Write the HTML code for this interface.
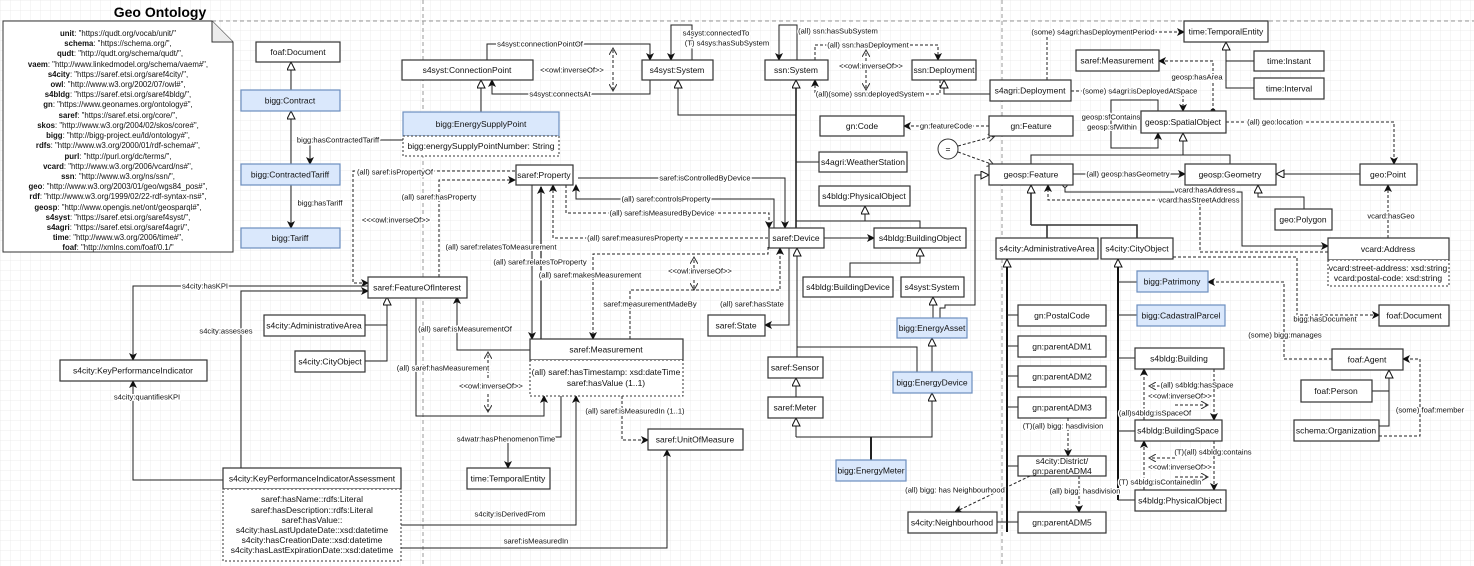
<!DOCTYPE html>
<html><head><meta charset="utf-8">
<style>
html,body{margin:0;padding:0;background:#fff;}
svg{display:block;font-family:"Liberation Sans",Arial,sans-serif;}
.b{fill:#fff;stroke:#333;stroke-width:1.2}
.bb{fill:#dae8fc;stroke:#6c8ebf;stroke-width:1.2}
.da{fill:#fff;stroke:#333;stroke-width:1;stroke-dasharray:2 2}
.t{font-size:8.5px;fill:#111;text-anchor:middle;dominant-baseline:central}
.l{font-size:7.6px;fill:#111;text-anchor:middle;dominant-baseline:central;stroke:#fff;stroke-width:3px;paint-order:stroke;stroke-linejoin:round}
.e{fill:none;stroke:#222;stroke-width:1}
.d{fill:none;stroke:#222;stroke-width:1;stroke-dasharray:3 2}
.k{fill:none;stroke:#111;stroke-width:2}
.n{font-size:7.8px;fill:#111;text-anchor:middle}
</style></head><body>
<svg width="1474" height="566" viewBox="0 0 1474 566" xmlns="http://www.w3.org/2000/svg">
<defs>
<pattern id="grid" width="10" height="10" patternUnits="userSpaceOnUse"><path d="M10 0H0V10" fill="none" stroke="#e8e8e8" stroke-width="0.8"/></pattern>
<marker id="fa" markerWidth="8" markerHeight="8" refX="7" refY="4" orient="auto" markerUnits="userSpaceOnUse"><path d="M0,0 L8,4 L0,8 L2,4 z" fill="#111"/></marker>
<marker id="ht" markerWidth="10" markerHeight="10" refX="9" refY="4" orient="auto" markerUnits="userSpaceOnUse"><path d="M1,0 L9,4 L1,8 z" fill="#fff" stroke="#111" stroke-width="1"/></marker>
<marker id="oa" markerWidth="8" markerHeight="8" refX="7" refY="4" orient="auto" markerUnits="userSpaceOnUse"><path d="M0,0 L7,4 L0,8" fill="none" stroke="#333" stroke-width="1"/></marker>
<marker id="dot" markerWidth="6" markerHeight="6" refX="3" refY="3" markerUnits="userSpaceOnUse"><circle cx="3" cy="3" r="2.5" fill="#111"/></marker>
<marker id="oc" markerWidth="6" markerHeight="6" refX="3" refY="3" markerUnits="userSpaceOnUse"><circle cx="3" cy="3" r="2.2" fill="#fff" stroke="#111"/></marker>
</defs>
<rect width="1474" height="566" fill="url(#grid)"/>
<path d="M212 21H1474" stroke="#999" stroke-dasharray="4 3" fill="none"/>
<path d="M423 0V566M1002 0V566" stroke="#999" stroke-dasharray="4 3" fill="none"/>

<text x="160" y="12" font-size="14" font-weight="bold" text-anchor="middle" dominant-baseline="central">Geo Ontology</text>
<path d="M3 21H212L233 42V252H3Z" fill="#fff" stroke="#333"/>
<path d="M212 21V42H233" fill="#ececec" stroke="#333"/>
<g class="n">
<text x="118" y="36"><tspan font-weight="bold">unit</tspan>: "https://qudt.org/vocab/unit/"</text>
<text x="118" y="46"><tspan font-weight="bold">schema</tspan>: "https://schema.org/",</text>
<text x="120" y="56"><tspan font-weight="bold">qudt</tspan>: "http://qudt.org/schema/qudt/",</text>
<text x="118" y="67"><tspan font-weight="bold">vaem</tspan>: "http://www.linkedmodel.org/schema/vaem#",</text>
<text x="118" y="77"><tspan font-weight="bold">s4city</tspan>: "https://saref.etsi.org/saref4city/",</text>
<text x="118" y="87"><tspan font-weight="bold">owl</tspan>: "http://www.w3.org/2002/07/owl#",</text>
<text x="118" y="97"><tspan font-weight="bold">s4bldg</tspan>: "https://saref.etsi.org/saref4bldg/",</text>
<text x="118" y="107"><tspan font-weight="bold">gn</tspan>: "https://www.geonames.org/ontology#",</text>
<text x="118" y="118"><tspan font-weight="bold">saref</tspan>: "https://saref.etsi.org/core/",</text>
<text x="118" y="128"><tspan font-weight="bold">skos</tspan>: "http://www.w3.org/2004/02/skos/core#",</text>
<text x="118" y="138"><tspan font-weight="bold">bigg</tspan>: "http://bigg-project.eu/ld/ontology#",</text>
<text x="118" y="148"><tspan font-weight="bold">rdfs</tspan>: "http://www.w3.org/2000/01/rdf-schema#",</text>
<text x="118" y="159"><tspan font-weight="bold">purl</tspan>: "http://purl.org/dc/terms/",</text>
<text x="118" y="169"><tspan font-weight="bold">vcard</tspan>: "http://www.w3.org/2006/vcard/ns#",</text>
<text x="118" y="179"><tspan font-weight="bold">ssn</tspan>: "http://www.w3.org/ns/ssn/",</text>
<text x="118" y="189"><tspan font-weight="bold">geo</tspan>: "http://www.w3.org/2003/01/geo/wgs84_pos#",</text>
<text x="118" y="199"><tspan font-weight="bold">rdf</tspan>: "http://www.w3.org/1999/02/22-rdf-syntax-ns#",</text>
<text x="118" y="210"><tspan font-weight="bold">geosp</tspan>: "http://www.opengis.net/ont/geosparql#",</text>
<text x="118" y="220"><tspan font-weight="bold">s4syst</tspan>: "https://saref.etsi.org/saref4syst/",</text>
<text x="118" y="230"><tspan font-weight="bold">s4agri</tspan>: "https://saref.etsi.org/saref4agri/",</text>
<text x="118" y="240"><tspan font-weight="bold">time</tspan>: "http://www.w3.org/2006/time#",</text>
<text x="118" y="250"><tspan font-weight="bold">foaf</tspan>: "http://xmlns.com/foaf/0.1/"</text>
</g>

<g>
<path class="e" d="M291 90V62" marker-end="url(#ht)"/>
<path class="e" d="M291 164V111" marker-end="url(#ht)"/>
<path class="e" d="M291 185V228" marker-end="url(#fa)"/>
<path class="e" d="M403 140H310V164" marker-end="url(#fa)"/>
<path class="e" d="M481 112V80" marker-end="url(#ht)"/>
<path class="e" d="M487 60V44H650V60" marker-end="url(#fa)"/>
<path class="e" d="M650 80V94H492V80" marker-end="url(#fa)"/>
<path class="d" d="M613 68V48" marker-end="url(#oa)"/><path class="d" d="M613 72V91" marker-end="url(#oa)"/>
<path class="e" d="M692 60V25H671V60" marker-end="url(#fa)"/>
<path class="e" d="M797 60V25H779V60" marker-end="url(#fa)"/>
<path class="d" d="M815 60V45H938V60" marker-end="url(#fa)"/>
<path class="d" d="M940 80V94H815V80" marker-end="url(#fa)"/>
<path class="d" d="M866 66V50" marker-end="url(#oa)"/><path class="d" d="M866 70V90" marker-end="url(#oa)"/>
<path class="e" d="M990 94H944V80" marker-end="url(#ht)"/>
<path class="e" d="M796 115H678V80" marker-end="url(#ht)"/>
<path class="e" style="stroke-width:1.6" d="M796 228V80" marker-end="url(#ht)"/>
<path class="e" d="M796 162H819"/>
<path class="e" d="M796 221H920V228M865 221V206" marker-end="url(#ht)"/>
<path class="e" d="M824 238H874" marker-end="url(#fa)"/>
<path class="e" d="M850 277V263H920V248" marker-end="url(#ht)"/>
<path class="e" d="M578 178H785V228" marker-end="url(#fa)"/>
<path class="e" d="M774 228V199H576V185" marker-end="url(#fa)"/>
<path class="d" d="M566 185V213H769V228" marker-end="url(#fa)"/>
<path class="d" d="M768 238H553V185" marker-end="url(#fa)"/>
<path class="d" d="M515 171H353V283H368" marker-end="url(#fa)"/>
<path class="d" d="M439 277V180H515" marker-end="url(#fa)"/>
<path class="e" d="M532 185V339" marker-end="url(#fa)"/>
<path class="e" style="stroke:#777;stroke-width:2" d="M541 339V187" marker-end="url(#fa)"/>
<path class="d" d="M768 247V254H593V339" marker-end="url(#fa)"/>
<path class="d" d="M630 339V290H780V248" marker-end="url(#fa)"/>
<path class="d" d="M694 268V257" marker-end="url(#oa)"/><path class="d" d="M694 280V290" marker-end="url(#oa)"/>
<path class="e" d="M789 248V325H765" marker-end="url(#fa)"/>
<path class="e" d="M530 350H457V297" marker-end="url(#fa)"/>
<path class="e" d="M416 297V416H544V396" marker-end="url(#fa)"/>
<path class="d" d="M488 378V352" marker-end="url(#oa)"/><path class="d" d="M488 394V412" marker-end="url(#oa)"/>
<path class="e" d="M561 396V437H508V468" marker-end="url(#fa)"/>
<path class="d" d="M622 396V440H648" marker-end="url(#fa)"/>
<path class="e" d="M401 525H576V396" marker-end="url(#fa)"/>
<path class="e" d="M401 548H667V450" marker-end="url(#fa)"/>
<path class="e" d="M368 286H133V360" marker-end="url(#fa)"/>
<path class="e" d="M241 468V291H368" marker-end="url(#fa)"/>
<path class="e" d="M223 480H133V381" marker-end="url(#fa)"/>
<path class="e" d="M365 325H387M365 361H387V297" marker-end="url(#ht)"/>
<path class="e" d="M797 357V248" marker-end="url(#ht)"/>
<path class="e" d="M917 372V347H797"/>
<path class="e" d="M796 397V378" marker-end="url(#ht)"/>
<path class="e" d="M796 437V418" marker-end="url(#ht)"/>
<path class="e" d="M796 437H932V393" marker-end="url(#ht)"/>
<path class="e" style="stroke-width:2" d="M871 460V437"/>
<path class="e" d="M932 372V338" marker-end="url(#ht)"/>
<path class="e" d="M933 318V297" marker-end="url(#ht)"/>
<path class="e" d="M940 318V308H945V305H975V175H989" marker-end="url(#ht)"/>
<path class="d" d="M989 126H904" marker-end="url(#fa)"/>
<circle cx="948" cy="149" r="10" fill="#fff" stroke="#333"/>
<text x="948" y="149" class="t">=</text>
<path class="d" d="M958 146L995 136" marker-end="url(#oa)"/>
<path class="d" d="M958 152L994 165" marker-end="url(#oa)"/>
<path class="d" d="M1047 80V32H1184" marker-end="url(#fa)"/>
<path class="d" d="M1071 91H1183V111" marker-end="url(#fa)"/>
<path class="d" d="M1213 111V61H1159" marker-start="url(#dot)" marker-end="url(#fa)"/>
<path class="e" d="M1254 88H1226V61H1254M1226 61V42" marker-end="url(#ht)"/>
<path class="e" d="M1158 111V100H1111V148H1158V133" marker-end="url(#fa)"/>
<path class="d" d="M1226 122H1394V164" marker-end="url(#fa)"/>
<path class="e" d="M1031 164V155H1230V164M1183 155V133" marker-end="url(#ht)"/>
<path class="e" d="M1073 174H1185" marker-end="url(#fa)"/>
<path class="e" d="M1360 174H1276" marker-end="url(#ht)"/>
<path class="e" d="M1304 209V197H1258V185" marker-end="url(#ht)"/>
<path class="e" d="M1065 185V192H1242V246H1328" marker-start="url(#oc)" marker-end="url(#fa)"/>
<path class="d" d="M1328 252H1200V200H1048V185" marker-end="url(#fa)"/>
<path class="d" d="M1388 238V185" marker-end="url(#fa)"/>
<path class="k" style="stroke:#333;stroke-width:1.6" d="M1137 238V225H1031M1047 225V238"/>
<path class="k" style="stroke:#333;stroke-width:1.6" d="M1031 225V185" marker-end="url(#ht)"/>
<path class="k" d="M1007 532V259" marker-end="url(#ht)"/>
<path class="e" d="M1007 315H1018M1007 346H1018M1007 376H1018M1007 407H1018M1007 466H1018M1007 522H1018M997 522H1007"/>
<path class="k" d="M1118 500V259" marker-end="url(#ht)"/>
<path class="e" d="M1118 282H1137M1118 315H1137M1118 358H1135M1118 431H1135M1118 500H1135"/>
<path class="d" d="M1068 418V456" marker-end="url(#fa)"/>
<path class="d" d="M1079 476V512" marker-end="url(#fa)"/>
<path class="d" d="M1030 476L955 512" marker-end="url(#fa)"/>
<path class="d" d="M1332 359H1284V282H1208" marker-end="url(#fa)"/>
<path class="d" d="M1173 257H1297V315H1379" marker-end="url(#fa)"/>
<path class="d" d="M1214 369V420" marker-end="url(#fa)"/>
<path class="d" d="M1144 420V369" marker-end="url(#fa)"/>
<path class="d" d="M1175 386H1149" marker-end="url(#oa)"/><path class="d" d="M1175 405H1208" marker-end="url(#oa)"/>
<path class="d" d="M1214 441V490" marker-end="url(#fa)"/>
<path class="d" d="M1144 490V441" marker-end="url(#fa)"/>
<path class="d" d="M1175 458H1149" marker-end="url(#oa)"/><path class="d" d="M1175 477H1208" marker-end="url(#oa)"/>
<path class="e" d="M1372 391H1389M1379 426H1389V370" marker-end="url(#ht)"/>
<path class="d" d="M1379 436H1420V359H1403" marker-end="url(#fa)"/>
</g>

<g class="l">
<text x="320" y="203">bigg:hasTariff</text>
<text x="338" y="140">bigg:hasContractedTariff</text>
<text x="540" y="44">s4syst:connectionPointOf</text>
<text x="560" y="94">s4syst:connectsAt</text>
<text x="572" y="70">&lt;&lt;owl:inverseOf&gt;&gt;</text>
<text x="716" y="33">s4syst:connectedTo</text>
<text x="727" y="43">(T) s4sys:hasSubSystem</text>
<text x="838" y="31">(all) ssn:hasSubSystem</text>
<text x="868" y="45">(all) ssn:hasDeployment</text>
<text x="870" y="94">(all)(some) ssn:deployedSystem</text>
<text x="871" y="66">&lt;&lt;owl:inverseOf&gt;&gt;</text>
<text x="705" y="178">saref:isControlledByDevice</text>
<text x="666" y="199">(all) saref:controlsProperty</text>
<text x="662" y="213">(all) saref:isMeasuredByDevice</text>
<text x="635" y="238">(all) saref:measuresProperty</text>
<text x="395" y="172">(all) saref:isPropertyOf</text>
<text x="439" y="197">(all) saref:hasProperty</text>
<text x="396" y="220">&lt;&lt;&lt;owl:inverseOf&gt;&gt;</text>
<text x="501" y="247">(all) saref:relatesToMeasurement</text>
<text x="540" y="262">(all) saref:relatesToProperty</text>
<text x="590" y="275">(all) saref:makesMeasurement</text>
<text x="650" y="304">saref:measurementMadeBy</text>
<text x="700" y="271">&lt;&lt;owl:inverseOf&gt;&gt;</text>
<text x="752" y="304">(all) saref:hasState</text>
<text x="465" y="329">(all) saref:isMeasurementOf</text>
<text x="443" y="368">(all) saref:hasMeasurement</text>
<text x="491" y="386">&lt;&lt;owl:inverseOf&gt;&gt;</text>
<text x="506" y="439">s4watr:hasPhenomenonTime</text>
<text x="635" y="411">(all) saref:isMeasuredIn (1..1)</text>
<text x="510" y="514">s4city:isDerivedFrom</text>
<text x="536" y="541">saref:isMeasuredIn</text>
<text x="205" y="286">s4city:hasKPI</text>
<text x="226" y="331">s4city:assesses</text>
<text x="147" y="397">s4city:quantifiesKPI</text>
<text x="946" y="126">gn:featureCode</text>
<text x="1093" y="32">(some) s4agri:hasDeploymentPeriod</text>
<text x="1140" y="91">(some) s4agri:isDeployedAtSpace</text>
<text x="1197" y="77">geosp:hasArea</text>
<text x="1111" y="117">geosp:sfContains</text>
<text x="1112" y="127">geosp:sfWithin</text>
<text x="1275" y="122">(all) geo:location</text>
<text x="1128" y="174">(all) geosp:hasGeometry</text>
<text x="1205" y="190">vcard:hasAddress</text>
<text x="1199" y="200">vcard:hasStreetAddress</text>
<text x="1391" y="216">vcard:hasGeo</text>
<text x="1063" y="426">(T)(all) bigg: hasdivision</text>
<text x="1085" y="491">(all) bigg: hasdivision</text>
<text x="955" y="490">(all) bigg: has Neighbourhood</text>
<text x="1285" y="335">(some) bigg:manages</text>
<text x="1325" y="319">bigg:hasDocument</text>
<text x="1197" y="385">(all) s4bldg:hasSpace</text>
<text x="1155" y="413">(all)s4bldg:isSpaceOf</text>
<text x="1180" y="396">&lt;&lt;owl:inverseOf&gt;&gt;</text>
<text x="1213" y="452">(T)(all) s4bldg:contains</text>
<text x="1160" y="482">(T) s4bldg:isContainedIn</text>
<text x="1180" y="467">&lt;&lt;owl:inverseOf&gt;&gt;</text>
<text x="1430" y="410">(some) foaf:member</text>
</g>

<g>
<rect class="b" x="256" y="42" width="84" height="20"/><text class="t" x="298" y="52">foaf:Document</text>
<rect class="bb" x="241" y="90" width="99" height="21"/><text class="t" x="290" y="100.5">bigg:Contract</text>
<rect class="bb" x="241" y="164" width="99" height="21"/><text class="t" x="290" y="174.5">bigg:ContractedTariff</text>
<rect class="bb" x="241" y="228" width="99" height="20"/><text class="t" x="290" y="238">bigg:Tariff</text>
<rect class="b" x="402" y="60" width="131" height="20"/><text class="t" x="467" y="70">s4syst:ConnectionPoint</text>
<rect class="b" x="642" y="60" width="71" height="20"/><text class="t" x="677" y="70">s4syst:System</text>
<rect class="b" x="765" y="60" width="63" height="20"/><text class="t" x="796" y="70">ssn:System</text>
<rect class="b" x="912" y="60" width="64" height="20"/><text class="t" x="944" y="70">ssn:Deployment</text>
<rect class="bb" x="403" y="112" width="156" height="24"/><text class="t" x="481" y="124">bigg:EnergySupplyPoint</text>
<rect class="da" x="403" y="136" width="156" height="20"/><text class="t" x="481" y="146">bigg:energySupplyPointNumber: String</text>
<rect class="b" x="820" y="116" width="84" height="20"/><text class="t" x="862" y="126">gn:Code</text>
<rect class="b" x="819" y="152" width="88" height="20"/><text class="t" x="863" y="162">s4agri:WeatherStation</text>
<rect class="b" x="819" y="186" width="91" height="20"/><text class="t" x="864" y="196">s4bldg:PhysicalObject</text>
<rect class="b" x="516" y="165" width="57" height="20"/><text class="t" x="544" y="175">saref:Property</text>
<rect class="b" x="769" y="228" width="55" height="20"/><text class="t" x="796" y="238">saref:Device</text>
<rect class="b" x="874" y="228" width="92" height="20"/><text class="t" x="920" y="238">s4bldg:BuildingObject</text>
<rect class="b" x="803" y="277" width="90" height="20"/><text class="t" x="848" y="287">s4bldg:BuildingDevice</text>
<rect class="b" x="901" y="277" width="63" height="20"/><text class="t" x="932" y="287">s4syst:System</text>
<rect class="b" x="708" y="315" width="57" height="21"/><text class="t" x="736" y="325.5">saref:State</text>
<rect class="bb" x="897" y="318" width="70" height="20"/><text class="t" x="932" y="328">bigg:EnergyAsset</text>
<rect class="b" x="768" y="357" width="55" height="21"/><text class="t" x="795" y="367.5">saref:Sensor</text>
<rect class="bb" x="893" y="372" width="79" height="21"/><text class="t" x="932" y="382.5">bigg:EnergyDevice</text>
<rect class="b" x="768" y="397" width="55" height="21"/><text class="t" x="795" y="407.5">saref:Meter</text>
<rect class="bb" x="836" y="460" width="70" height="21"/><text class="t" x="871" y="470.5">bigg:EnergyMeter</text>
<rect class="b" x="908" y="512" width="89" height="21"/><text class="t" x="952" y="522.5">s4city:Neighbourhood</text>
<rect class="b" x="368" y="277" width="99" height="21"/><text class="t" x="417" y="287.5">saref:FeatureOfInterest</text>
<rect class="b" x="264" y="315" width="101" height="21"/><text class="t" x="314" y="325.5">s4city:AdministrativeArea</text>
<rect class="b" x="295" y="351" width="70" height="21"/><text class="t" x="330" y="361.5">s4city:CityObject</text>
<rect class="b" x="60" y="360" width="147" height="21"/><text class="t" x="133" y="370.5">s4city:KeyPerformanceIndicator</text>
<rect class="b" x="530" y="339" width="153" height="21"/><text class="t" x="606" y="349.5">saref:Measurement</text>
<rect class="da" x="530" y="360" width="153" height="36"/>
<text class="t" x="606" y="372">(all) saref:hasTimestamp: xsd:dateTime</text>
<text class="t" x="606" y="383">saref:hasValue (1..1)</text>
<rect class="b" x="648" y="429" width="95" height="21"/><text class="t" x="695" y="439.5">saref:UnitOfMeasure</text>
<rect class="b" x="467" y="468" width="83" height="21"/><text class="t" x="508" y="478.5">time:TemporalEntity</text>
<rect class="b" x="223" y="468" width="178" height="21"/><text class="t" x="312" y="478.5">s4city:KeyPerformanceIndicatorAssessment</text>
<rect class="da" x="223" y="489" width="178" height="72"/>
<text class="t" x="312" y="499">saref:hasName::rdfs:Literal</text>
<text class="t" x="312" y="510">saref:hasDescription::rdfs:Literal</text>
<text class="t" x="312" y="520">saref:hasValue::</text>
<text class="t" x="312" y="530">s4city:hasLastUpdateDate::xsd:datetime</text>
<text class="t" x="312" y="540">s4city:hasCreationDate::xsd:datetime</text>
<text class="t" x="312" y="550">s4city:hasLastExpirationDate::xsd:datetime</text>
<rect class="b" x="1184" y="21" width="84" height="21"/><text class="t" x="1226" y="31.5">time:TemporalEntity</text>
<rect class="b" x="1076" y="50" width="83" height="21"/><text class="t" x="1117" y="60.5">saref:Measurement</text>
<rect class="b" x="1254" y="51" width="70" height="20"/><text class="t" x="1289" y="61">time:Instant</text>
<rect class="b" x="1254" y="78" width="70" height="21"/><text class="t" x="1289" y="88.5">time:Interval</text>
<rect class="b" x="990" y="80" width="81" height="21"/><text class="t" x="1030" y="90.5">s4agri:Deployment</text>
<rect class="b" x="989" y="116" width="84" height="20"/><text class="t" x="1031" y="126">gn:Feature</text>
<rect class="b" x="1141" y="111" width="85" height="22"/><text class="t" x="1183" y="122">geosp:SpatialObject</text>
<rect class="b" x="989" y="164" width="84" height="21"/><text class="t" x="1031" y="174.5">geosp:Feature</text>
<rect class="b" x="1185" y="164" width="91" height="21"/><text class="t" x="1230" y="174.5">geosp:Geometry</text>
<rect class="b" x="1360" y="164" width="57" height="21"/><text class="t" x="1388" y="174.5">geo:Point</text>
<rect class="b" x="1275" y="209" width="57" height="21"/><text class="t" x="1303" y="219.5">geo:Polygon</text>
<rect class="b" x="996" y="238" width="102" height="21"/><text class="t" x="1047" y="248.5">s4city:AdministrativeArea</text>
<rect class="b" x="1101" y="238" width="72" height="21"/><text class="t" x="1137" y="248.5">s4city:CityObject</text>
<rect class="b" x="1328" y="238" width="121" height="22"/><text class="t" x="1388" y="249">vcard:Address</text>
<rect class="da" x="1328" y="260" width="121" height="26"/>
<text class="t" x="1388" y="268">vcard:street-address: xsd:string</text>
<text class="t" x="1388" y="278">vcard:postal-code: xsd:string</text>
<rect class="b" x="1018" y="305" width="88" height="21"/><text class="t" x="1062" y="315.5">gn:PostalCode</text>
<rect class="b" x="1018" y="336" width="88" height="21"/><text class="t" x="1062" y="346.5">gn:parentADM1</text>
<rect class="b" x="1018" y="366" width="88" height="21"/><text class="t" x="1062" y="376.5">gn:parentADM2</text>
<rect class="b" x="1018" y="397" width="88" height="21"/><text class="t" x="1062" y="407.5">gn:parentADM3</text>
<rect class="b" x="1018" y="456" width="88" height="20"/>
<text class="t" x="1062" y="461">s4city:District/</text><text class="t" x="1062" y="471">gn:parentADM4</text>
<rect class="b" x="1018" y="512" width="88" height="21"/><text class="t" x="1062" y="522.5">gn:parentADM5</text>
<rect class="bb" x="1137" y="271" width="71" height="21"/><text class="t" x="1172" y="281.5">bigg:Patrimony</text>
<rect class="bb" x="1137" y="305" width="88" height="21"/><text class="t" x="1181" y="315.5">bigg:CadastralParcel</text>
<rect class="b" x="1135" y="348" width="89" height="21"/><text class="t" x="1179" y="358.5">s4bldg:Building</text>
<rect class="b" x="1135" y="420" width="87" height="21"/><text class="t" x="1178" y="430.5">s4bldg:BuildingSpace</text>
<rect class="b" x="1135" y="490" width="91" height="21"/><text class="t" x="1180" y="500.5">s4bldg:PhysicalObject</text>
<rect class="b" x="1379" y="305" width="70" height="21"/><text class="t" x="1414" y="315.5">foaf:Document</text>
<rect class="b" x="1332" y="349" width="71" height="21"/><text class="t" x="1367" y="359.5">foaf:Agent</text>
<rect class="b" x="1301" y="380" width="71" height="22"/><text class="t" x="1336" y="391">foaf:Person</text>
<rect class="b" x="1294" y="420" width="85" height="21"/><text class="t" x="1336" y="430.5">schema:Organization</text>
</g>
</svg>
</body></html>
